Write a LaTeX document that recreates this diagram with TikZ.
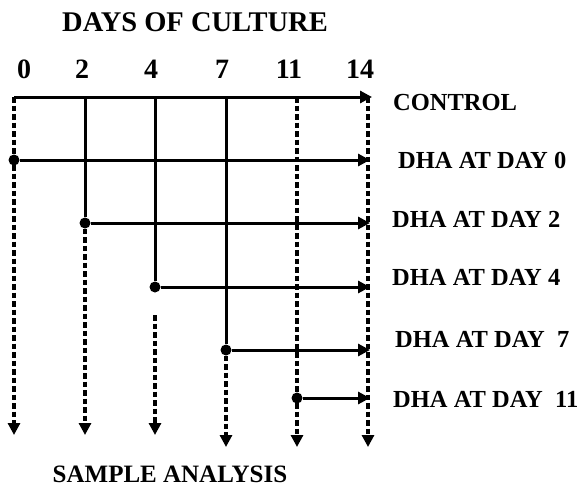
\documentclass[tikz,border=0pt]{standalone}
\usepackage{fontspec}
\setmainfont{Liberation Serif}
\usetikzlibrary{arrows.meta}
\tikzset{
  tip/.style={-{Triangle[length=12pt,width=12pt]}},
  solidln/.style={line width=3pt},
  dashln/.style={line width=3.2pt,dash pattern=on 5.5pt off 3pt},
  dot/.style={circle,fill=black,inner sep=0pt,minimum size=11pt},
  lbl/.style={anchor=base west,inner sep=0pt,font=\fontsize{24.5}{27}\selectfont\bfseries},
  num/.style={anchor=base,inner sep=0pt,font=\fontsize{28}{30}\selectfont\bfseries},
  ttl/.style={anchor=base,inner sep=0pt,font=\fontsize{28.5}{30}\selectfont\bfseries}
}
\begin{document}
\begin{tikzpicture}[x=1pt,y=-1pt]
\useasboundingbox (0,0) rectangle (586,487);
% title and day numbers
\node[ttl] (title) at (195,32) {DAYS OF CULTURE};
\node[num] (n0) at (24,78) {0};
\node[num] (n2) at (82,78) {2};
\node[num] (n4) at (151,78) {4};
\node[num] (n7) at (222,78) {7};
\node[num] (n11) at (289,78) {11};
\node[num] (n14) at (360,78) {14};
% top points
\coordinate (c0) at (14,97);
\coordinate (c2) at (85,97);
\coordinate (c4) at (155,97);
\coordinate (c7) at (226,97);
\coordinate (c11) at (297,97);
\coordinate (c14) at (368,97);
\coordinate (ce) at (372,97);
% dots
\node[dot] (d0) at (14,160) {};
\node[dot] (d2) at (85,223) {};
\node[dot] (d4) at (155,287) {};
\node[dot] (d7) at (226,350) {};
\node[dot] (d11) at (297,398) {};
% arrow ends
\coordinate (h0) at (370,160);
\coordinate (h2) at (370,223);
\coordinate (h4) at (370,287);
\coordinate (h7) at (370,350);
\coordinate (h11) at (370,398);
% bottoms
\coordinate (s4) at (155,315);
\coordinate (b0) at (14,435);
\coordinate (b2) at (85,435);
\coordinate (b4) at (155,435);
\coordinate (b7) at (226,447);
\coordinate (b11) at (297,447);
\coordinate (b14) at (368,447);
% dashed verticals
\draw[dashln,tip] (c0) -- (b0);
\draw[dashln,tip] (d2) -- (b2);
\draw[dashln,tip] (s4) -- (b4);
\draw[dashln,tip] (d7) -- (b7);
\draw[dashln,tip] (c11) -- (b11);
\draw[dashln,tip] (c14) -- (b14);
% solid verticals
\draw[solidln] (c2) -- (d2);
\draw[solidln] (c4) -- (d4);
\draw[solidln] (c7) -- (d7);
% horizontal arrows
\draw[solidln,tip] (c0) -- (ce);
\draw[solidln,tip] (d0) -- (h0);
\draw[solidln,tip] (d2) -- (h2);
\draw[solidln,tip] (d4) -- (h4);
\draw[solidln,tip] (d7) -- (h7);
\draw[solidln,tip] (d11) -- (h11);
% labels
\node[lbl] (l0) at (393,110) {CONTROL};
\node[lbl] (l1) at (398,168) {DHA AT DAY 0};
\node[lbl] (l2) at (392,227) {DHA AT DAY 2};
\node[lbl] (l3) at (392,285) {DHA AT DAY 4};
\node[lbl] (l4) at (395,347) {DHA AT DAY\ \ 7};
\node[lbl] (l5) at (393,407) {DHA AT DAY\ \ 11};
\node[ttl,font=\fontsize{25}{27}\selectfont\bfseries] (sa) at (170,482) {SAMPLE ANALYSIS};
\end{tikzpicture}
\end{document}
